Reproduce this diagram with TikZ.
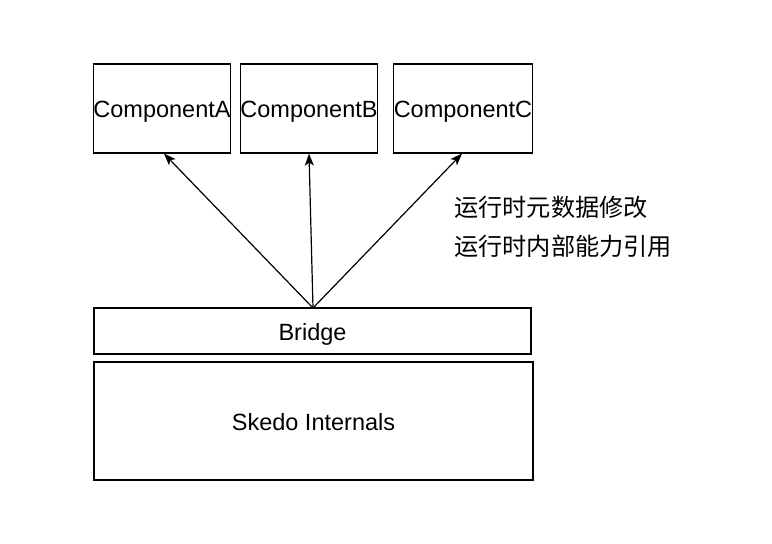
\documentclass[tikz,border=0pt]{standalone}
\usepackage{fontspec}
\setmainfont{Liberation Sans}
\newfontfamily\cjk{Noto Sans CJK SC}
\usetikzlibrary{arrows.meta}
\begin{document}
\begin{tikzpicture}[x=1pt,y=-1pt,
  box/.style={draw=black,line width=1.2pt,inner sep=0pt,text height=18.5pt,text depth=0pt,font=\fontsize{23.5}{26}\selectfont},
  arr/.style={-{Stealth[length=12pt,width=9pt,inset=3pt]},line width=1.2pt},
  cn/.style={anchor=west,inner sep=0pt,font=\cjk\fontsize{24.2}{26}\selectfont}]
\useasboundingbox (0,0) rectangle (772,544);
\node[box,minimum width=136pt,minimum height=89pt] (A) at (162,108.5) {ComponentA};
\node[box,minimum width=136pt,minimum height=89pt] (B) at (309,108.5) {ComponentB};
\node[box,minimum width=136pt,minimum height=89pt] (C) at (463,108.5) {ComponentC};
\node[box,minimum width=437pt,minimum height=46pt] (br) at (312.5,331) {Bridge};
\node[box,minimum width=439pt,minimum height=118pt] (sk) at (313.5,421) {Skedo Internals};
\coordinate (o) at (313,308);
\draw[arr] (o) -- (164,153.6);
\draw[arr] (o) -- (309,153.6);
\draw[arr] (o) -- (462,153.6);
\node[cn] (t1) at (454,207) {运行时元数据修改};
\node[cn] (t2) at (454,246) {运行时内部能力引用};
\end{tikzpicture}
\end{document}
